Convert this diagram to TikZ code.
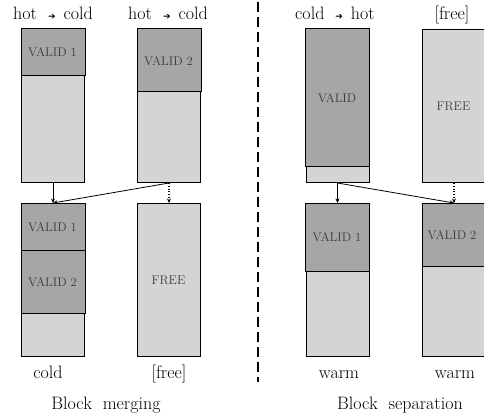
\documentclass[tikz,border=0pt]{standalone}
\usepackage{fontspec}
\newfontfamily\arrfont{DejaVu Sans}
\usetikzlibrary{arrows.meta,calc}
\definecolor{darkpart}{HTML}{A6A6A6}
\definecolor{lightpart}{HTML}{D4D4D4}
\definecolor{intext}{HTML}{3C3C3C}
\newcommand{\hotcold}[2]{#1\hspace{11pt}{\arrfont\fontsize{9}{9}\selectfont ➔}\hspace{8pt}#2}
\begin{document}
\begin{tikzpicture}[x=1pt,y=-1pt,
  blk/.style={draw, line width=1pt, fill=lightpart, minimum width=63pt, minimum height=153pt, inner sep=0pt, anchor=north west},
  part/.style={draw, line width=1pt, fill=darkpart},
  intxt/.style={font=\fontsize{12.5}{13}\selectfont, text=intext, inner sep=0pt},
  big/.style={font=\fontsize{18}{20}\selectfont, anchor=base, inner sep=0pt},
  conn/.style={line width=0.8pt, -{Stealth[length=4.5pt,width=4pt]}},
  dconn/.style={conn, dotted, line width=1.1pt}
]
\useasboundingbox (0,0) rectangle (484,417);

% ---- Block merging ----
\node[blk] (A1) at (21,29) {};
\draw[part] (A1.north west) rectangle ($(A1.north east)+(0,47)$);
\node[intxt] (a1t) at (52.5,52.5) {VALID 1};

\node[blk] (A2) at (137,29) {};
\draw[part] (A2.north west) rectangle ($(A2.north east)+(0,63)$);
\node[intxt] (a2t) at (168.5,61) {VALID 2};

\node[blk] (B1) at (21,203) {};
\draw[part] (B1.north west) rectangle ($(B1.north east)+(0,47)$);
\draw[part] ($(B1.north west)+(0,47)$) rectangle ($(B1.north east)+(0,110)$);
\node[intxt] (b1t) at (52.5,227) {VALID 1};
\node[intxt] (b2t) at (52.5,282) {VALID 2};

\node[blk] (B2) at (137,203) {};
\node[intxt] (b3t) at (168.5,280) {FREE};

\node[big] (l1) at (53,20) {\hotcold{hot}{cold}};
\node[big] (l2) at (168,20) {\hotcold{hot}{cold}};
\node[big] (l3) at (48,378) {cold};
\node[big] (l4) at (169,378) {[free]};
\node[big] (l5) at (106,409) {Block\hspace{0.6em}merging};

\draw[conn] (A1.south) -- (B1.north);
\draw[conn] (A2.south) -- (B1.north);
\draw[dconn] (A2.south) -- (B2.north);

% ---- divider ----
\coordinate (d1) at (258,2);
\coordinate (d2) at (258,382);
\draw[line width=2pt, dash pattern=on 10pt off 5pt] (d1) -- (d2);

% ---- Block separation ----
\node[blk] (C1) at (305.5,29) {};
\draw[part] (C1.north west) rectangle ($(C1.north east)+(0,137)$);
\node[intxt] (c1t) at (337,98) {VALID};

\node[blk] (C2) at (422,29) {};
\node[intxt] (c2t) at (453.5,106.5) {FREE};

\node[blk] (D1) at (305.5,203) {};
\draw[part] (D1.north west) rectangle ($(D1.north east)+(0,68)$);
\node[intxt] (d1t) at (337,237) {VALID 1};

\node[blk] (D2) at (422,203) {};
\draw[part] (D2.north west) rectangle ($(D2.north east)+(0,63)$);
\node[intxt] (d2t) at (452,235) {VALID 2};

\node[big] (l6) at (335,20) {\hotcold{cold}{hot}};
\node[big] (l7) at (452,20) {[free]};
\node[big] (l8) at (339,378) {warm};
\node[big] (l9) at (455,378) {warm};
\node[big] (l10) at (400,409) {Block\hspace{0.6em}separation};

\draw[conn] (C1.south) -- (D1.north);
\draw[conn] (C1.south) -- (D2.north);
\draw[dconn] (C2.south) -- (D2.north);
\end{tikzpicture}
\end{document}
